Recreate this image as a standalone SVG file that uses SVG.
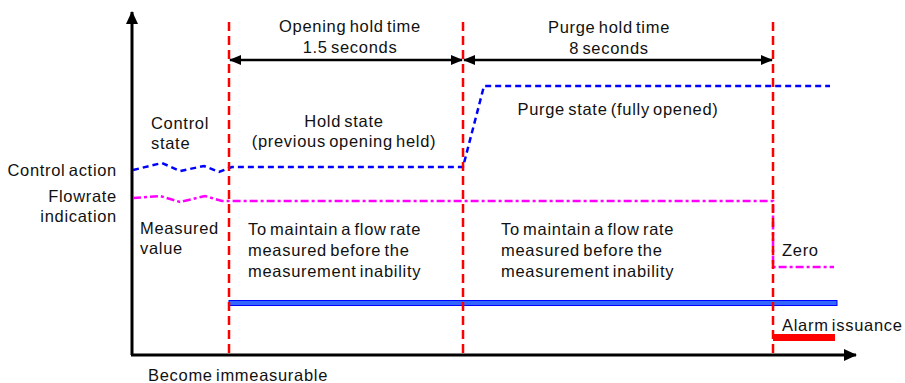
<svg xmlns="http://www.w3.org/2000/svg" width="905" height="383" viewBox="0 0 905 383">
  <defs>
    <style>
      text { font-family: "Liberation Sans", Arial, sans-serif; font-size: 16.5px; fill: #111; letter-spacing: 0.7px; word-spacing: -2px; }
      .mid { text-anchor: middle; }
      .end { text-anchor: end; }
      .axis { stroke: #000; stroke-width: 3; fill: none; }
      .span { stroke: #000; stroke-width: 2.5; fill: none; }
      .marker { stroke: #ff0000; stroke-width: 2.5; stroke-dasharray: 9 5; fill: none; }
      .ctrl { stroke: #0000ff; stroke-width: 2.5; stroke-dasharray: 6 4; fill: none; }
      .flow { stroke: #ff00ff; stroke-width: 2.5; stroke-dasharray: 8 3 3 3; fill: none; }
    </style>
    <marker id="head" viewBox="0 0 12 10" refX="11" refY="5" markerWidth="12" markerHeight="10" markerUnits="userSpaceOnUse" orient="auto-start-reverse">
      <path d="M0,0 L12,5 L0,10 z" fill="#000"/>
    </marker>
    <marker id="axisHead" viewBox="0 0 13 12" refX="12" refY="6" markerWidth="13" markerHeight="12" markerUnits="userSpaceOnUse" orient="auto">
      <path d="M0,0 L13,6 L0,12 z" fill="#000"/>
    </marker>
  </defs>

  <!-- axes -->
  <g id="axes">
    <path class="axis" d="M132,355 L132,12" marker-end="url(#axisHead)"/>
    <path class="axis" d="M131,355 L856,355" marker-end="url(#axisHead)"/>
  </g>

  <!-- control action trace -->
  <g id="control-action">
    <path class="ctrl" d="M133,170 L162,163 L180,171 L204,166 L219,172 L229,168 L232,167 L463,167 L484,86 L830,86"/>
  </g>

  <!-- flowrate indication trace -->
  <g id="flowrate">
    <path class="flow" d="M133,198 L160,196 L180,202 L205,196 L222,201 L229,201 L773,201 L773,267 L834,267"/>
  </g>

  <!-- bars -->
  <g id="hold-bar">
    <rect x="229" y="300.5" width="608" height="5" fill="#3366ff" stroke="#0000ff" stroke-width="1"/>
  </g>
  <g id="alarm-bar">
    <rect x="773" y="334" width="62" height="7" fill="#ff0000"/>
  </g>

  <!-- event markers -->
  <g id="markers">
    <line class="marker" x1="229" y1="22" x2="229" y2="354"/>
    <line class="marker" x1="463" y1="22" x2="463" y2="354"/>
    <line class="marker" x1="773" y1="22" x2="773" y2="354"/>
  </g>

  <!-- duration spans -->
  <g id="connectors">
    <line class="span" x1="230" y1="60" x2="462" y2="60" marker-start="url(#head)" marker-end="url(#head)"/>
    <line class="span" x1="464" y1="60" x2="772" y2="60" marker-start="url(#head)" marker-end="url(#head)"/>
  </g>

  <!-- labels -->
  <g id="label-opening">
    <text class="mid" x="350" y="32">Opening hold time</text>
    <text class="mid" x="350" y="53">1.5 seconds</text>
  </g>
  <g id="label-purge-time">
    <text class="mid" x="609" y="33">Purge hold time</text>
    <text class="mid" x="609" y="54">8 seconds</text>
  </g>
  <g id="label-control-state">
    <text x="151" y="129">Control</text>
    <text x="151" y="149">state</text>
  </g>
  <g id="label-hold-state">
    <text class="mid" x="344" y="127">Hold state</text>
    <text class="mid" x="344" y="147">(previous opening held)</text>
  </g>
  <g id="label-purge-state">
    <text class="mid" x="618" y="115">Purge state (fully opened)</text>
  </g>
  <g id="label-axis">
    <text class="end" x="117" y="176">Control action</text>
    <text class="end" x="117" y="202">Flowrate</text>
    <text class="end" x="117" y="222">indication</text>
  </g>
  <g id="label-measured">
    <text x="140" y="234">Measured</text>
    <text x="140" y="254">value</text>
  </g>
  <g id="label-maintain-1">
    <text x="248" y="235">To maintain a flow rate</text>
    <text x="248" y="256">measured before the</text>
    <text x="248" y="277">measurement inability</text>
  </g>
  <g id="label-maintain-2">
    <text x="501" y="235">To maintain a flow rate</text>
    <text x="501" y="256">measured before the</text>
    <text x="501" y="277">measurement inability</text>
  </g>
  <g id="label-zero">
    <text x="782" y="256">Zero</text>
  </g>
  <g id="label-alarm">
    <text x="782" y="331">Alarm issuance</text>
  </g>
  <g id="label-immeasurable">
    <text x="148" y="381">Become immeasurable</text>
  </g>
</svg>
